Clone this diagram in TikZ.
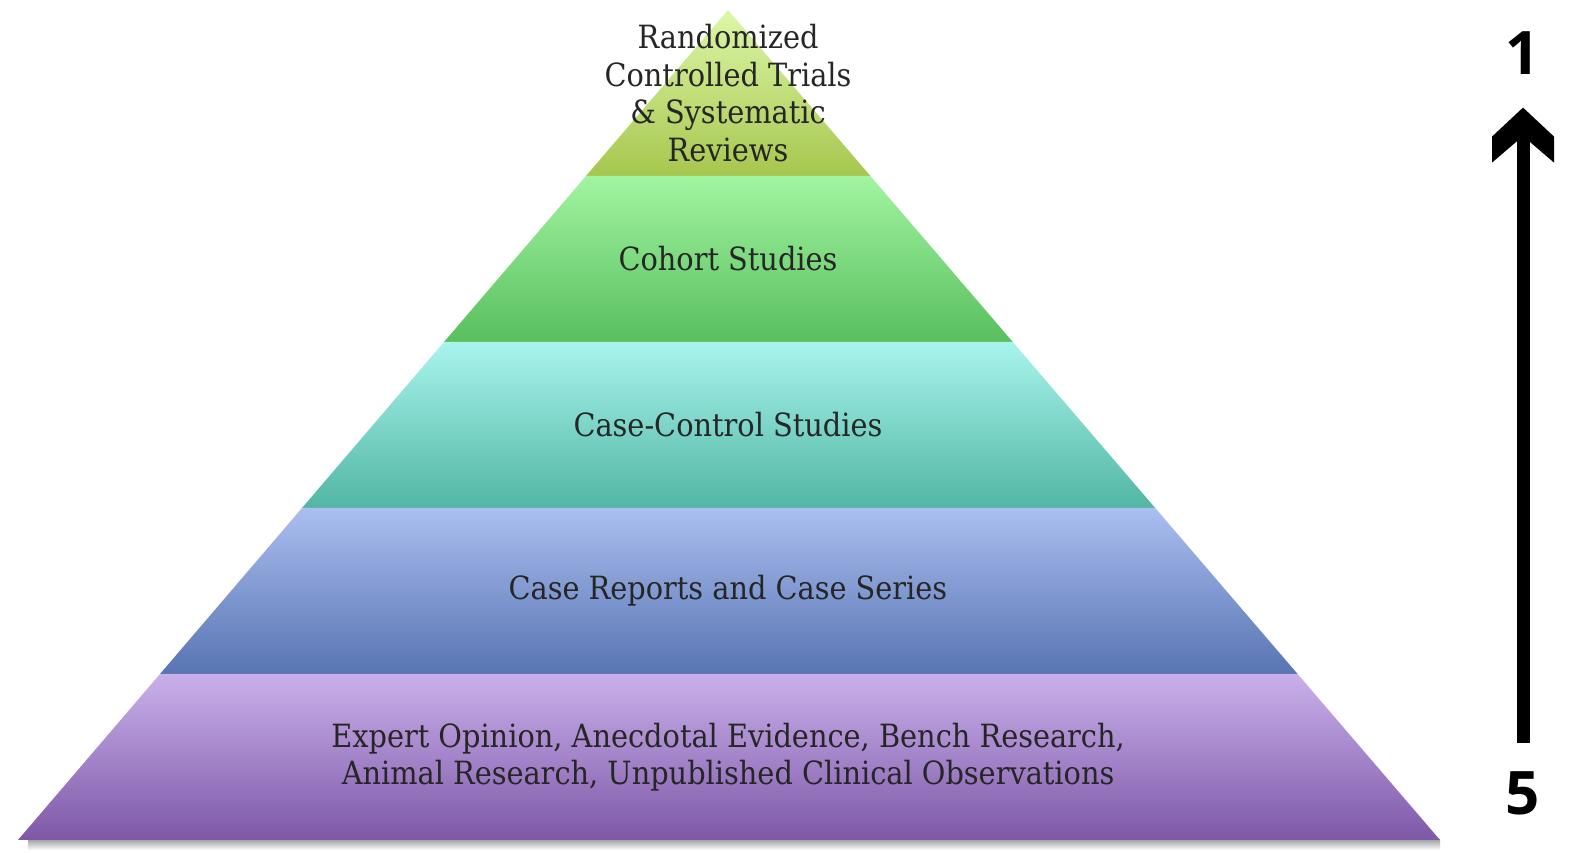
\documentclass[tikz,border=0pt]{standalone}
\usepackage{fontspec}
\setmainfont{DejaVu Serif Condensed}
\newfontfamily\numfont{Open Sans}
\usetikzlibrary{calc,positioning}

\definecolor{rctTop}{HTML}{DDF7A8}
\definecolor{rctBot}{HTML}{A6C64E}
\definecolor{cohTop}{HTML}{A2F4A0}
\definecolor{cohBot}{HTML}{58BF5E}
\definecolor{ccTop}{HTML}{A8F4EC}
\definecolor{ccBot}{HTML}{52B6A4}
\definecolor{crTop}{HTML}{ABBEF0}
\definecolor{crBot}{HTML}{5874B2}
\definecolor{expTop}{HTML}{C9B0EA}
\definecolor{expBot}{HTML}{7E58A8}

\begin{document}
\begin{tikzpicture}
[
    x=1pt, y=1pt,
    level text/.style={align=center, text=black!85, font=\fontsize{32}{37.5}\selectfont},
    level num/.style={inner sep=0pt, font=\numfont\bfseries\fontsize{60}{60}\selectfont},
    rank shaft/.style={line width=13pt},
]
\useasboundingbox (0,0) rectangle (1588,853);
\coordinate (apex) at (728,843);
\coordinate (bl) at (18,13);
\coordinate (br) at (1440,13);

% shadow under the base
\shade[top color=black!35, bottom color=white] ($(bl)+(10,0)$) rectangle ($(br)+(0,-10)$);

% the five levels
\foreach \i/\ctop/\cbot/\txt in {
    1/rctTop/rctBot/{Randomized\\Controlled Trials\\\& Systematic\\Reviews},
    2/cohTop/cohBot/{Cohort Studies},
    3/ccTop/ccBot/{Case-Control Studies},
    4/crTop/crBot/{Case Reports and Case Series},
    5/expTop/expBot/{Expert Opinion, Anecdotal Evidence, Bench Research,\\Animal Research, Unpublished Clinical Observations}}
{
    \pgfmathsetmacro\ta{(\i-1)/5}
    \pgfmathsetmacro\tb{\i/5}
    \pgfmathsetmacro\tm{(\i-0.5)/5}
    \shade[top color=\ctop, bottom color=\cbot]
        ($(apex)!\ta!(bl)$) -- ($(apex)!\tb!(bl)$) -- ($(apex)!\tb!(br)$) -- ($(apex)!\ta!(br)$) -- cycle;
    \node[level text] (lvl\i) at (728,{843-830*\tm}) {\txt};
}

% rank arrow
\node[level num] (one) at (1523,800) {1};
\node[level num] (five) at (1523,60) {5};
\coordinate[below=33pt of one] (tip);
\draw[rank shaft, shorten <=28pt] (five) -- ($(tip)+(0,-30)$);
\fill (tip) -- ++(-31,-29) -- ++(0,-26) -- ++(24.5,21) -- ++(13,0)
    -- ++(24.5,-21) -- ++(0,26) -- cycle;
\end{tikzpicture}
\end{document}
